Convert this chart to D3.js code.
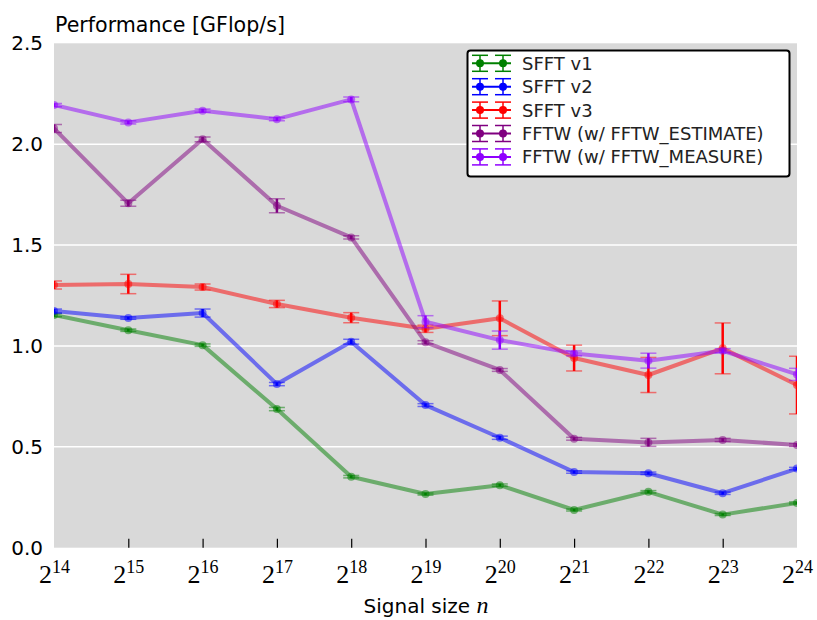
<!DOCTYPE html>
<html>
<head>
<meta charset="utf-8">
<script src="https://cdn.jsdelivr.net/npm/d3@7"></script>
<style>
  html, body { margin: 0; padding: 0; background: #fff; }
  svg { display: block; }
</style>
</head>
<body>
<svg id="chart" width="817" height="620"></svg>
<script>
// Signal size exponents: n = 2^k
const exponents = [14, 15, 16, 17, 18, 19, 20, 21, 22, 23, 24];
const yTicks = [0, 0.5, 1.0, 1.5, 2.0, 2.5];

// Performance in GFlop/s, with error (half-width) per point
const sfftV1    = [1.153, 1.078, 1.004, 0.687, 0.352, 0.266, 0.310, 0.187, 0.277, 0.164, 0.222];
const sfftV1Err = [0.008, 0.006, 0.006, 0.008, 0.006, 0.005, 0.006, 0.005, 0.006, 0.005, 0.005];

const sfftV2    = [1.173, 1.138, 1.163, 0.811, 1.021, 0.707, 0.545, 0.375, 0.369, 0.270, 0.392];
const sfftV2Err = [0.010, 0.006, 0.020, 0.008, 0.012, 0.007, 0.008, 0.006, 0.006, 0.006, 0.006];

const sfftV3    = [1.302, 1.307, 1.292, 1.208, 1.140, 1.085, 1.137, 0.940, 0.856, 0.988, 0.806];
const sfftV3Err = [0.020, 0.048, 0.015, 0.018, 0.025, 0.018, 0.086, 0.064, 0.087, 0.126, 0.143];

const fftwEst    = [2.078, 1.707, 2.024, 1.695, 1.538, 1.018, 0.881, 0.540, 0.522, 0.534, 0.509];
const fftwEstErr = [0.020, 0.015, 0.012, 0.035, 0.008, 0.008, 0.007, 0.007, 0.020, 0.008, 0.007];

const fftwMeas    = [2.194, 2.108, 2.166, 2.124, 2.222, 1.120, 1.029, 0.963, 0.927, 0.976, 0.859];
const fftwMeasErr = [0.008, 0.008, 0.008, 0.008, 0.012, 0.030, 0.045, 0.012, 0.037, 0.010, 0.030];

const seriesNames  = ["SFFT v1", "SFFT v2", "SFFT v3", "FFTW (w/ FFTW_ESTIMATE)", "FFTW (w/ FFTW_MEASURE)"];
const seriesColors = ["#008000", "#0000ff", "#ff0000", "#800080", "#8f00ff"];
const seriesValues = [sfftV1, sfftV2, sfftV3, fftwEst, fftwMeas];
const seriesErrors = [sfftV1Err, sfftV2Err, sfftV3Err, fftwEstErr, fftwMeasErr];

const series = seriesNames.map((name, i) => ({
  name,
  color: seriesColors[i],
  points: exponents.map((k, j) => ({ k, v: seriesValues[i][j], e: seriesErrors[i][j] }))
}));

const svg = d3.select("#chart");
const plot = { left: 54, right: 797, top: 43.3, bottom: 547.7 };

const x = d3.scaleLinear().domain([14, 24]).range([plot.left, plot.right]);
const y = d3.scaleLinear().domain([0, 2.5]).range([plot.bottom, plot.top]);

// axes background
svg.append("rect")
  .attr("x", plot.left).attr("y", plot.top)
  .attr("width", plot.right - plot.left).attr("height", plot.bottom - plot.top)
  .attr("fill", "#d9d9d9");

svg.append("clipPath").attr("id", "plot-clip")
  .append("rect")
  .attr("x", plot.left).attr("y", plot.top)
  .attr("width", plot.right - plot.left).attr("height", plot.bottom - plot.top);

// horizontal grid lines
svg.append("g")
  .selectAll("line")
  .data(yTicks.filter(t => t > 0 && t < 2.5))
  .join("line")
  .attr("x1", plot.left).attr("x2", plot.right)
  .attr("y1", d => y(d)).attr("y2", d => y(d))
  .attr("stroke", "#ffffff").attr("stroke-width", 1.5);

// x tick marks (inward)
const xAxis = svg.append("g")
  .attr("transform", `translate(0,${plot.bottom})`)
  .call(d3.axisBottom(x).tickValues(exponents).tickSizeInner(-9).tickSizeOuter(0).tickFormat(""));
xAxis.select(".domain").remove();
xAxis.selectAll(".tick line")
  .attr("stroke", "#000").attr("stroke-width", 1.2)
  .attr("display", d => (d === 14 || d === 24) ? "none" : null);

// x tick labels as 2^k
xAxis.selectAll(".tick text").remove();
xAxis.selectAll(".tick").append("text")
  .attr("y", 35.5)
  .attr("text-anchor", "middle")
  .attr("font-family", "'Liberation Serif', 'DejaVu Serif', serif")
  .attr("fill", "#000")
  .each(function(d) {
    const t = d3.select(this);
    t.append("tspan").attr("font-size", 26).text("2");
    t.append("tspan").attr("font-size", 18).attr("dy", -10).text(d);
  });

// y tick labels
const yAxis = svg.append("g")
  .attr("transform", `translate(${plot.left},0)`)
  .call(d3.axisLeft(y).tickValues(yTicks).tickSize(0).tickPadding(11).tickFormat(d3.format(".1f")));
yAxis.select(".domain").remove();
yAxis.selectAll(".tick text")
  .attr("font-family", "'DejaVu Sans', sans-serif")
  .attr("font-size", 20)
  .attr("fill", "#000");

// series
const marks = svg.append("g").attr("clip-path", "url(#plot-clip)");
const line = d3.line().x(d => x(d.k)).y(d => y(d.v));
const capHalf = 8;

series.forEach(s => {
  const g = marks.append("g");
  g.append("path")
    .attr("d", line(s.points))
    .attr("fill", "none")
    .attr("stroke", s.color).attr("stroke-width", 4)
    .attr("stroke-opacity", 0.5)
    .attr("stroke-linejoin", "round");
  // error bars
  g.selectAll(".ebar").data(s.points).join("line")
    .attr("x1", d => x(d.k)).attr("x2", d => x(d.k))
    .attr("y1", d => y(d.v - d.e)).attr("y2", d => y(d.v + d.e))
    .attr("stroke", s.color).attr("stroke-width", 2.5);
  ["top", "bottom"].forEach(side => {
    g.selectAll(".cap-" + side).data(s.points).join("line")
      .attr("x1", d => x(d.k) - capHalf).attr("x2", d => x(d.k) + capHalf)
      .attr("y1", d => y(side === "top" ? d.v + d.e : d.v - d.e))
      .attr("y2", d => y(side === "top" ? d.v + d.e : d.v - d.e))
      .attr("stroke", s.color).attr("stroke-width", 1.5).attr("stroke-opacity", 0.5);
  });
  g.selectAll("circle").data(s.points).join("circle")
    .attr("cx", d => x(d.k)).attr("cy", d => y(d.v)).attr("r", 4)
    .attr("fill", s.color).attr("fill-opacity", 0.5);
});

// title and axis label
svg.append("text")
  .attr("x", 55).attr("y", 32)
  .attr("font-family", "'DejaVu Sans', sans-serif")
  .attr("font-size", 22)
  .attr("textLength", 230)
  .attr("lengthAdjust", "spacingAndGlyphs")
  .attr("fill", "#000")
  .text("Performance [GFlop/s]");

const xLabel = svg.append("text")
  .attr("x", 426).attr("y", 612.5)
  .attr("text-anchor", "middle")
  .attr("font-family", "'DejaVu Sans', sans-serif")
  .attr("font-size", 20)
  .attr("fill", "#000");
xLabel.append("tspan").text("Signal size ");
xLabel.append("tspan")
  .attr("font-family", "'Liberation Serif', 'DejaVu Serif', serif")
  .attr("font-style", "italic").attr("font-size", 24).text("n");

// legend
const legend = svg.append("g");
legend.append("rect")
  .attr("x", 467.5).attr("y", 50.5).attr("width", 322).attr("height", 126)
  .attr("rx", 3)
  .attr("fill", "#fff").attr("stroke", "#000").attr("stroke-width", 2);

series.forEach((s, i) => {
  const cy = 63.3 + i * 23.4;
  const g = legend.append("g");
  g.append("line").attr("x1", 472).attr("x2", 511).attr("y1", cy).attr("y2", cy)
    .attr("stroke", s.color).attr("stroke-width", 2);
  [480, 503].forEach(mx => {
    g.append("line").attr("x1", mx).attr("x2", mx).attr("y1", cy - 8).attr("y2", cy + 8)
      .attr("stroke", s.color).attr("stroke-width", 1.5);
    [cy - 8, cy + 8].forEach(cyy => {
      g.append("line").attr("x1", mx - 8).attr("x2", mx + 8).attr("y1", cyy).attr("y2", cyy)
        .attr("stroke", s.color).attr("stroke-width", 1.5);
    });
    g.append("circle").attr("cx", mx).attr("cy", cy).attr("r", 4).attr("fill", s.color);
  });
  g.append("text")
    .attr("x", 522).attr("y", cy + 6.5)
    .attr("font-family", "'DejaVu Sans', sans-serif")
    .attr("font-size", 18)
    .attr("fill", "#222")
    .text(s.name);
});
</script>
</body>
</html>
